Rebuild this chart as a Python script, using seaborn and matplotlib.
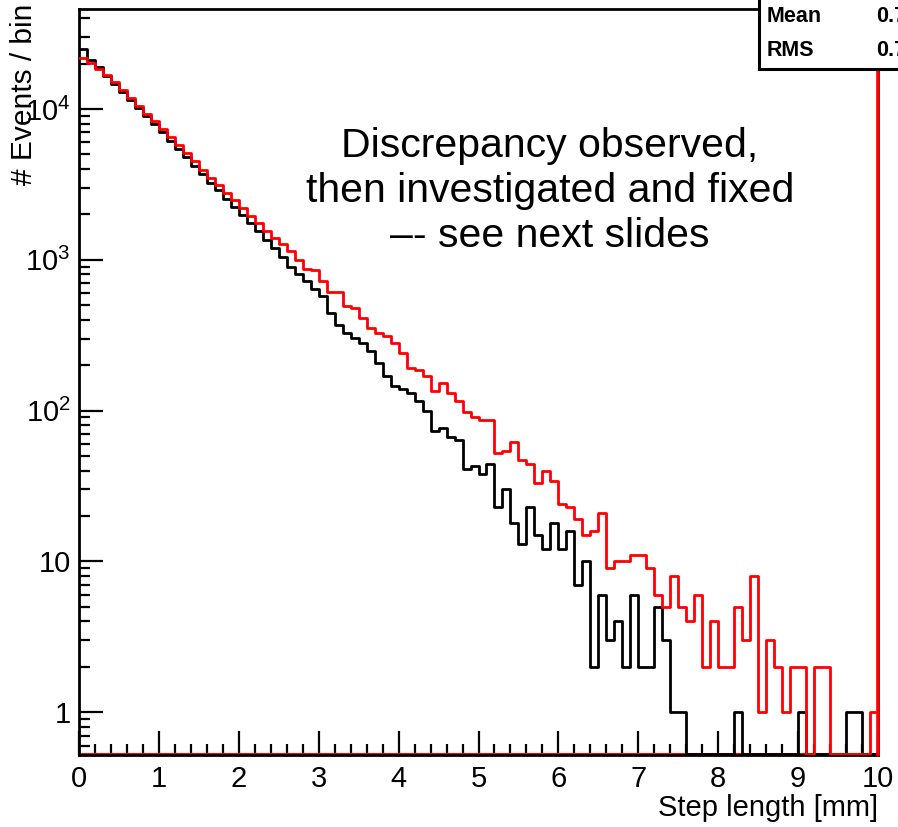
import numpy as np
import pandas as pd
import matplotlib
matplotlib.use("Agg")
import matplotlib.pyplot as plt
import matplotlib.patches as mpatches
from matplotlib.ticker import FixedLocator, MultipleLocator, LogLocator, NullFormatter
import seaborn as sns

# ---- data (events per 0.1 mm bin) ----
bin_width = 0.1
x_range = (0.0, 10.0)
black_counts = [24800, 21100, 19000, 16600, 14700, 13000, 11500, 10200, 9000, 7950,
                7000, 6150, 5450, 4800, 4200, 3700, 3250, 2880, 2540, 2240,
                1980, 1750, 1540, 1360, 1200, 1050, 900, 800, 720, 640,
                573, 445, 372, 327, 303, 281, 247, 207, 169, 145,
                138, 131, 115, 100, 73, 77, 67, 64, 41, 43,
                38, 44, 23, 30, 18, 13, 23, 15, 12, 18,
                12, 16, 7, 10, 2, 6, 3, 4, 2, 6,
                2, 2, 5, 3, 1, 1, 0, 0, 0, 0,
                0, 0, 1, 0, 0, 0, 0, 0, 0, 0,
                1, 0, 0, 0, 0, 0, 1, 1, 0, 0]
red_counts = [21900, 20200, 18400, 16700, 15000, 13300, 11800, 10500, 9300, 8300,
              7400, 6500, 5800, 5100, 4500, 3960, 3490, 3130, 2780, 2480,
              2200, 1960, 1740, 1560, 1400, 1270, 1140, 1000, 870, 850,
              720, 615, 610, 497, 480, 412, 353, 327, 310, 281,
              241, 192, 185, 169, 134, 152, 131, 115, 98, 90,
              86, 86, 52, 54, 62, 47, 44, 33, 40, 34,
              24, 23, 19, 15, 16, 21, 9, 10, 10, 11,
              11, 9, 6, 5, 8, 5, 4, 6, 2, 4,
              2, 2, 5, 3, 8, 1, 3, 2, 1, 2,
              2, 0, 2, 2, 0, 0, 0, 0, 0, 1]
y_tick_values = [1, 10, 100, 1000, 10000]
y_tick_labels = ["1", "10", r"$\mathdefault{10^{2}}$", r"$\mathdefault{10^{3}}$", r"$\mathdefault{10^{4}}$"]
x_tick_values = list(range(0, 11))
stat_names = ["Mean", "RMS"]
stat_values = ["0.7", "0.7"]
annotation = "Discrepancy observed,\nthen investigated and fixed\n\u2013- see next slides"

# ---- style ----
sns.set_style("ticks")
plt.rcParams['font.family'] = ['Liberation Sans', 'DejaVu Sans']
plt.rcParams['mathtext.fontset'] = 'custom'
plt.rcParams['mathtext.rm'] = 'Liberation Sans'
for key in ['text.color', 'axes.labelcolor', 'xtick.color', 'ytick.color', 'axes.edgecolor']:
    plt.rcParams[key] = 'black'

W, H = 898, 827
fig = plt.figure(figsize=(W / 100, H / 100), dpi=100)
ax = fig.add_axes([79 / W, 1 - 755 / H, (878 - 79) / W, (755 - 9) / H])

y_bottom, y_top = 0.52, 46000

n_bins = len(black_counts)
centers = x_range[0] + bin_width * (np.arange(n_bins) + 0.5)

for counts, col, z in [(black_counts, "black", 2), (red_counts, "#ff0000", 3)]:
    sub = pd.DataFrame({"x": centers,
                        "w": np.maximum(np.asarray(counts, dtype=float), y_bottom * 1.02)})
    sns.histplot(data=sub, x="x", weights="w", binwidth=bin_width, binrange=x_range,
                 element="step", fill=False, color=col, linewidth=2.0, ax=ax, zorder=z)

ax.set_yscale("log")
ax.set_xlim(*x_range)
ax.set_ylim(y_bottom, y_top)

# red histogram outline along the bottom and right edge (ROOT artefact)
ax.axhline(y_bottom * 1.02, color="#ff0000", lw=2.2, zorder=1.5)
ax.axvline(x_range[1], color="#ff0000", lw=2.6, zorder=4, clip_on=False)

ax.set_xlabel("")
ax.set_ylabel("")
ax.xaxis.set_major_locator(FixedLocator(x_tick_values))
ax.xaxis.set_minor_locator(MultipleLocator(0.2))
ax.set_xticklabels([str(v) for v in x_tick_values])
ax.yaxis.set_major_locator(FixedLocator(y_tick_values))
ax.yaxis.set_minor_locator(LogLocator(base=10, subs=np.arange(2, 10)))
ax.yaxis.set_minor_formatter(NullFormatter())
ax.set_yticklabels(y_tick_labels)

ax.tick_params(axis="both", which="major", direction="in", length=17, width=1.6,
               labelsize=21, colors="black", top=False, right=False)
ax.tick_params(axis="both", which="minor", direction="in", length=8, width=1.6,
               top=False, right=False)
ax.tick_params(axis="x", which="major", pad=7)
ax.tick_params(axis="y", which="major", pad=6)
for sp in ax.spines.values():
    sp.set_linewidth(2.0)
    sp.set_color("black")
    sp.set_visible(True)

# axis titles
fig.text(878 / W, 1 - 808 / H, "Step length [mm]", ha="right", va="center", fontsize=21,
         color="black")
fig.text(24 / W, 1 - 4 / H, "# Events / bin", ha="center", va="top", rotation=90, fontsize=21.5,
         color="black")

# annotation
fig.text(550 / W, 1 - 191 / H, annotation, ha="center", va="center",
         multialignment="center", fontsize=29.5, linespacing=1.24, color="black")

# stats box (cut off at the figure edge)
box = mpatches.Rectangle((759 / W, 1 - 69 / H), 200 / W, 100 / H, transform=fig.transFigure,
                         facecolor="white", edgecolor="black", linewidth=2.2, zorder=10)
fig.patches.append(box)
for i, (nm, val) in enumerate(zip(stat_names, stat_values)):
    yy = 1 - (16 + 35 * i) / H
    fig.text(767 / W, yy, nm, ha="left", va="center", fontsize=15.5, fontweight="bold",
             zorder=11, color="black")
    fig.text(876 / W, yy, val, ha="left", va="center", fontsize=15.5, fontweight="bold",
             zorder=11, color="black")

fig.savefig("out.png", dpi=100)
